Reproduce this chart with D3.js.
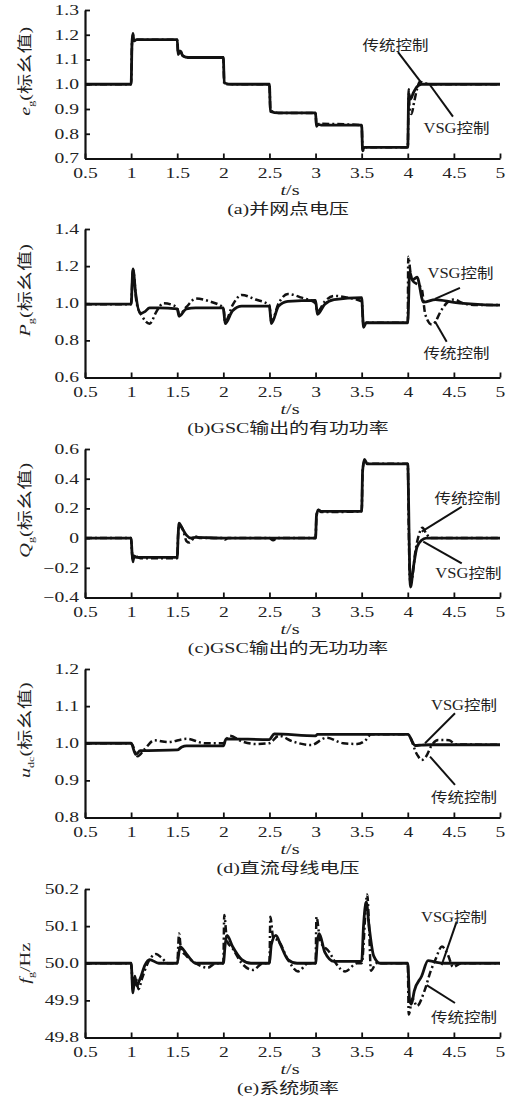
<!DOCTYPE html>
<html>
<head>
<meta charset="utf-8">
<script src="https://cdn.jsdelivr.net/npm/d3@7"></script>
<style>
  body { margin: 0; background: #fff; }
  svg { display: block; }
</style>
</head>
<body>
<script>
// time axis shared by every panel
const xTicks = [0.5, 1, 1.5, 2, 2.5, 3, 3.5, 4, 4.5, 5];
const xTickLabels = ["0.5", "1", "1.5", "2", "2.5", "3", "3.5", "4", "4.5", "5"];

// (a) grid point voltage
const egTicks = [0.7, 0.8, 0.9, 1.0, 1.1, 1.2, 1.3];
const egTickLabels = ["0.7", "0.8", "0.9", "1.0", "1.1", "1.2", "1.3"];
const egVsg = [[0.5,1.0],[1.0,1.0],[1.01,1.17],[1.02,1.205],[1.03,1.175],[1.06,1.18],[1.5,1.18],[1.51,1.12],[1.53,1.135],[1.56,1.115],[1.62,1.108],[2.0,1.108],[2.01,1.005],[2.1,1.0],[2.5,1.0],[2.51,0.89],[2.6,0.884],[3.0,0.884],[3.01,0.83],[3.03,0.838],[3.06,0.835],[3.5,0.835],[3.51,0.735],[3.53,0.745],[4.0,0.745],[4.01,0.96],[4.03,0.94],[4.06,0.965],[4.1,0.99],[4.15,1.0],[4.2,1.0],[5.0,1.0]];
const egTrad = [[0.5,1.0],[1.0,1.0],[1.01,1.17],[1.02,1.2],[1.03,1.175],[1.06,1.18],[1.5,1.18],[1.51,1.125],[1.53,1.14],[1.56,1.115],[1.62,1.108],[2.0,1.108],[2.01,1.0],[2.5,1.0],[2.51,0.895],[2.6,0.884],[3.0,0.884],[3.01,0.83],[3.04,0.84],[3.5,0.835],[3.51,0.73],[3.54,0.745],[4.0,0.745],[4.01,0.98],[4.02,0.9],[4.04,0.88],[4.07,0.93],[4.1,0.98],[4.13,1.01],[4.18,1.005],[4.25,1.0],[5.0,1.0]];
const egNotes = [
  { text: "传统控制", at: [3.866, 1.138], from: [3.894, 1.130], to: [4.140, 1.010] },
  { text: "VSG控制", at: [4.528, 0.803], from: [4.490, 0.869], to: [4.241, 0.997] }
];

// (b) GSC active power
const pgTicks = [0.6, 0.8, 1.0, 1.2, 1.4];
const pgTickLabels = ["0.6", "0.8", "1.0", "1.2", "1.4"];
const pgVsg = [[0.5,0.995],[1.0,0.995],[1.02,1.185],[1.05,1.05],[1.1,0.945],[1.15,0.955],[1.2,0.975],[1.3,0.975],[1.5,0.97],[1.52,0.93],[1.6,0.97],[1.7,0.975],[2.0,0.975],[2.02,0.89],[2.1,0.96],[2.2,0.985],[2.5,0.985],[2.52,0.89],[2.6,0.985],[2.7,1.01],[3.0,1.015],[3.02,0.94],[3.1,0.995],[3.2,1.02],[3.5,1.03],[3.52,0.87],[3.55,0.895],[4.0,0.895],[4.02,1.17],[4.05,1.126],[4.1,1.14],[4.17,1.006],[4.3,1.02],[4.5,1.005],[4.8,0.993],[5.0,0.99]];
const pgTrad = [[0.5,0.995],[1.0,0.995],[1.02,1.18],[1.06,1.0],[1.12,0.93],[1.2,0.89],[1.28,0.96],[1.35,1.0],[1.45,0.99],[1.5,0.975],[1.52,0.94],[1.6,0.98],[1.7,1.025],[1.85,1.01],[2.0,0.975],[2.02,0.9],[2.1,0.99],[2.2,1.045],[2.35,1.02],[2.5,0.99],[2.52,0.9],[2.6,1.0],[2.7,1.05],[2.85,1.03],[3.0,1.0],[3.02,0.955],[3.1,1.01],[3.2,1.04],[3.35,1.03],[3.5,1.01],[3.52,0.88],[3.55,0.895],[4.0,0.895],[4.005,1.25],[4.04,1.13],[4.15,1.08],[4.19,0.94],[4.26,0.885],[4.3,0.9],[4.35,0.95],[4.42,1.0],[4.5,1.02],[4.6,1.0],[4.75,0.99],[5.0,0.99]];
const pgNotes = [
  { text: "VSG控制", at: [4.572, 1.137], from: [4.566, 1.083], to: [4.295, 1.024] },
  { text: "传统控制", at: [4.528, 0.706], from: [4.422, 0.792], to: [4.295, 0.902] }
];

// (c) GSC reactive power
const qgTicks = [-0.4, -0.2, 0, 0.2, 0.4, 0.6];
const qgTickLabels = ["\u22120.4", "\u22120.2", "0", "0.2", "0.4", "0.6"];
const qgVsg = [[0.5,0],[1.0,0],[1.01,-0.1],[1.02,-0.16],[1.03,-0.12],[1.06,-0.13],[1.5,-0.13],[1.51,0.02],[1.52,0.1],[1.55,0.07],[1.6,0.02],[1.65,0.0],[1.7,0.005],[2.0,0],[3.0,0],[3.01,0.15],[3.03,0.19],[3.06,0.18],[3.5,0.18],[3.51,0.45],[3.53,0.53],[3.56,0.5],[4.0,0.5],[4.01,0.2],[4.02,-0.2],[4.03,-0.33],[4.06,-0.2],[4.1,-0.06],[4.15,-0.015],[4.2,0],[5.0,0]];
const qgTrad = [[0.5,0],[1.0,0],[1.01,-0.1],[1.02,-0.15],[1.04,-0.12],[1.1,-0.135],[1.5,-0.135],[1.51,0.02],[1.52,0.09],[1.56,0.06],[1.6,-0.02],[1.63,-0.03],[1.7,0.01],[1.75,0],[2.0,0],[2.02,-0.01],[2.05,0],[2.5,0],[2.54,-0.015],[2.58,0],[3.0,0],[3.01,0.15],[3.03,0.19],[3.06,0.175],[3.5,0.18],[3.51,0.45],[3.53,0.52],[3.56,0.5],[4.0,0.5],[4.01,0.1],[4.02,-0.25],[4.03,-0.3],[4.05,-0.26],[4.08,-0.1],[4.12,0.02],[4.16,0.07],[4.2,0.03],[4.25,0],[5.0,0]];
const qgNotes = [
  { text: "传统控制", at: [4.648, 0.236], from: [4.585, 0.211], to: [4.151, 0.043] },
  { text: "VSG控制", at: [4.657, -0.271], from: [4.585, -0.170], to: [4.168, -0.024] }
];

// (d) DC bus voltage
const udcTicks = [0.8, 0.9, 1.0, 1.1, 1.2];
const udcTickLabels = ["0.8", "0.9", "1.0", "1.1", "1.2"];
const udcVsg = [[0.5,1.0],[1.0,1.0],[1.05,0.97],[1.1,0.98],[1.5,0.982],[1.55,0.99],[1.6,0.993],[2.0,0.993],[2.03,1.012],[2.5,1.01],[2.55,1.025],[3.0,1.02],[3.02,1.024],[4.0,1.024],[4.08,0.994],[4.15,0.995],[4.25,0.996],[5.0,0.996]];
const udcTrad = [[0.5,1.0],[1.0,1.0],[1.07,0.965],[1.15,0.985],[1.25,1.008],[1.4,1.003],[1.6,1.012],[1.8,1.0],[2.0,1.0],[2.07,1.02],[2.2,1.005],[2.35,0.998],[2.5,1.0],[2.6,1.02],[2.75,1.005],[2.95,0.995],[3.12,1.015],[3.3,1.0],[3.45,0.998],[3.55,1.01],[3.6,1.024],[4.0,1.024],[4.1,0.97],[4.15,0.955],[4.2,0.965],[4.26,0.995],[4.33,1.009],[4.45,1.008],[4.52,0.997],[5.0,0.996]];
const udcNotes = [
  { text: "VSG控制", at: [4.610, 1.090], from: [4.512, 1.081], to: [4.187, 1.000] },
  { text: "传统控制", at: [4.610, 0.843], from: [4.512, 0.888], to: [4.241, 0.964] }
];

// (e) system frequency
const fgTicks = [49.8, 49.9, 50.0, 50.1, 50.2];
const fgTickLabels = ["49.8", "49.9", "50.0", "50.1", "50.2"];
const fgVsg = [[0.5,50],[1.0,50],[1.02,49.92],[1.04,49.965],[1.06,49.94],[1.1,49.96],[1.15,49.995],[1.2,50.01],[1.3,50.0],[1.5,50.0],[1.53,50.045],[1.6,50.025],[1.7,50.0],[2.0,50.0],[2.02,50.05],[2.04,50.075],[2.1,50.045],[2.2,50.01],[2.3,50.0],[2.5,50.0],[2.52,50.05],[2.57,50.075],[2.62,50.05],[2.7,50.01],[2.8,50.0],[3.0,50.0],[3.02,50.06],[3.04,50.08],[3.1,50.03],[3.2,50.005],[3.5,50.005],[3.52,50.1],[3.55,50.165],[3.58,50.1],[3.63,50.02],[3.7,50.0],[4.0,50.0],[4.02,49.9],[4.04,49.89],[4.07,49.925],[4.15,49.965],[4.22,50.007],[4.3,50.003],[4.4,50.0],[5.0,50]];
const fgTrad = [[0.5,50],[1.0,50],[1.02,49.93],[1.05,49.96],[1.08,49.93],[1.12,49.96],[1.18,50.0],[1.27,50.025],[1.33,50.015],[1.4,50.0],[1.5,50.0],[1.52,50.08],[1.54,50.04],[1.6,50.02],[1.7,50.0],[1.83,49.988],[1.92,50.0],[2.0,50.0],[2.01,50.13],[2.04,50.06],[2.1,50.04],[2.2,50.0],[2.32,49.982],[2.43,50.0],[2.5,50.0],[2.51,50.125],[2.54,50.07],[2.6,50.06],[2.7,50.01],[2.81,49.978],[2.92,50.0],[3.0,50.0],[3.01,50.125],[3.05,50.06],[3.15,50.03],[3.22,50.0],[3.32,49.978],[3.45,50.0],[3.5,50.0],[3.56,50.185],[3.58,50.1],[3.6,49.98],[3.66,50.0],[4.0,50.0],[4.01,49.862],[4.05,49.905],[4.1,49.885],[4.18,49.925],[4.25,49.98],[4.3,50.01],[4.37,50.045],[4.44,50.02],[4.49,49.99],[4.58,50.0],[5.0,50]];
const fgNotes = [
  { text: "VSG控制", at: [4.501, 50.112], from: [4.530, 50.112], to: [4.367, 49.995] },
  { text: "传统控制", at: [4.610, 49.843], from: [4.512, 49.893], to: [4.205, 49.941] }
];

// y label pieces: [text, style] where style is "i" italic, "sub" subscript, "" plain
const egLabel = [["e", "i"], ["g", "sub"], ["(标幺值)", ""]];
const pgLabel = [["P", "i"], ["g", "sub"], ["(标幺值)", ""]];
const qgLabel = [["Q", "i"], ["g", "sub"], ["(标幺值)", ""]];
const udcLabel = [["u", "i"], ["dc", "sub"], ["(标幺值)", ""]];
const fgLabel = [["f", "i"], ["g", "sub"], ["/Hz", ""]];

const captions = ["(a)并网点电压", "(b)GSC输出的有功功率", "(c)GSC输出的无功功率", "(d)直流母线电压", "(e)系统频率"];

const panels = [
  { domain: [0.7, 1.3], ticks: egTicks, labels: egTickLabels, vsg: egVsg, trad: egTrad, notes: egNotes, ylabel: egLabel },
  { domain: [0.6, 1.4], ticks: pgTicks, labels: pgTickLabels, vsg: pgVsg, trad: pgTrad, notes: pgNotes, ylabel: pgLabel },
  { domain: [-0.4, 0.6], ticks: qgTicks, labels: qgTickLabels, vsg: qgVsg, trad: qgTrad, notes: qgNotes, ylabel: qgLabel },
  { domain: [0.8, 1.2], ticks: udcTicks, labels: udcTickLabels, vsg: udcVsg, trad: udcTrad, notes: udcNotes, ylabel: udcLabel },
  { domain: [49.8, 50.2], ticks: fgTicks, labels: fgTickLabels, vsg: fgVsg, trad: fgTrad, notes: fgNotes, ylabel: fgLabel }
];

const W = 510, H = 1104;
const left = 85, right = 500;
const tops = [10, 229, 449, 669, 889];
const plotH = 148.5;
const ink = "#111";
const serif = "'Liberation Serif', 'Noto Sans CJK SC', serif";
const textInk = "#222";
const sx = 1.35; // the source typeface is set wide

const svg = d3.select("body").append("svg")
  .attr("width", W)
  .attr("height", H)
  .style("font-family", serif);

const x = d3.scaleLinear().domain([0.5, 5]).range([left, right]);

panels.forEach((p, i) => {
  const top = tops[i];
  const bottom = top + plotH;
  const y = d3.scaleLinear().domain(p.domain).range([bottom, top]);
  const g = svg.append("g");

  const line = d3.line()
    .x(d => x(d[0]))
    .y(d => y(d[1]))
    .curve(d3.curveMonotoneX);

  g.append("path")
    .datum(p.trad)
    .attr("d", line)
    .attr("fill", "none")
    .attr("stroke", ink)
    .attr("stroke-width", 2.5)
    .attr("stroke-dasharray", "7,3,2,3");

  g.append("path")
    .datum(p.vsg)
    .attr("d", line)
    .attr("fill", "none")
    .attr("stroke", ink)
    .attr("stroke-width", 2.8)
    .attr("stroke-linejoin", "round");

  // axes, ticks pointing inward
  const xAxis = d3.axisBottom(x)
    .tickValues(xTicks)
    .tickFormat((d, k) => xTickLabels[k])
    .tickSizeInner(-5)
    .tickSizeOuter(0)
    .tickPadding(10);

  const yAxis = d3.axisLeft(y)
    .tickValues(p.ticks)
    .tickFormat((d, k) => p.labels[k])
    .tickSizeInner(-5)
    .tickSizeOuter(0)
    .tickPadding(6 / 1.4);

  const gx = g.append("g").attr("transform", `translate(0,${bottom})`).call(xAxis);
  const gy = g.append("g").attr("transform", `translate(${left},0)`).call(yAxis);

  [gx, gy].forEach(ax => {
    ax.select(".domain").attr("stroke", ink).attr("stroke-width", 2.2);
    ax.selectAll(".tick line").attr("stroke", ink).attr("stroke-width", 1.8);
    ax.selectAll(".tick text")
      .attr("fill", textInk)
      .style("font-family", serif)
      .style("font-size", "14px")
      .attr("transform", "scale(1.4,1)");
  });

  // y axis title, rotated
  const yl = g.append("text")
    .attr("transform", `translate(30,${(top + bottom) / 2 - (i === 4 ? 0 : 13)}) rotate(-90) scale(${sx},1)`)
    .attr("text-anchor", "middle")
    .attr("fill", textInk)
    .style("font-size", "15px");
  let shift = 0;
  p.ylabel.forEach(([txt, st]) => {
    const ts = yl.append("tspan").text(txt);
    if (st === "i") ts.style("font-style", "italic");
    if (st === "sub") {
      ts.style("font-size", "9px").attr("dy", 4 - shift);
      shift = 4;
    } else {
      ts.attr("dy", -shift);
      shift = 0;
    }
  });

  // t/s
  const tl = g.append("text")
    .attr("transform", `translate(290,${bottom + 36.5}) scale(${sx},1)`)
    .attr("text-anchor", "middle")
    .attr("fill", textInk)
    .style("font-size", "15px");
  tl.append("tspan").style("font-style", "italic").text("t");
  tl.append("tspan").text("/s");

  // caption
  g.append("text")
    .attr("transform", `translate(288,${bottom + 55.5}) scale(1.33,1)`)
    .attr("text-anchor", "middle")
    .attr("fill", textInk)
    .style("font-size", "15px")
    .text(captions[i]);

  // annotations with leader lines
  p.notes.forEach(n => {
    g.append("line")
      .attr("x1", x(n.from[0])).attr("y1", y(n.from[1]))
      .attr("x2", x(n.to[0])).attr("y2", y(n.to[1]))
      .attr("stroke", ink)
      .attr("stroke-width", 2);
    g.append("text")
      .attr("transform", `translate(${x(n.at[0])},${y(n.at[1])}) scale(1.18,1)`)
      .attr("text-anchor", "middle")
      .attr("fill", textInk)
      .style("font-size", "14px")
      .text(n.text);
  });
});
</script>
</body>
</html>
